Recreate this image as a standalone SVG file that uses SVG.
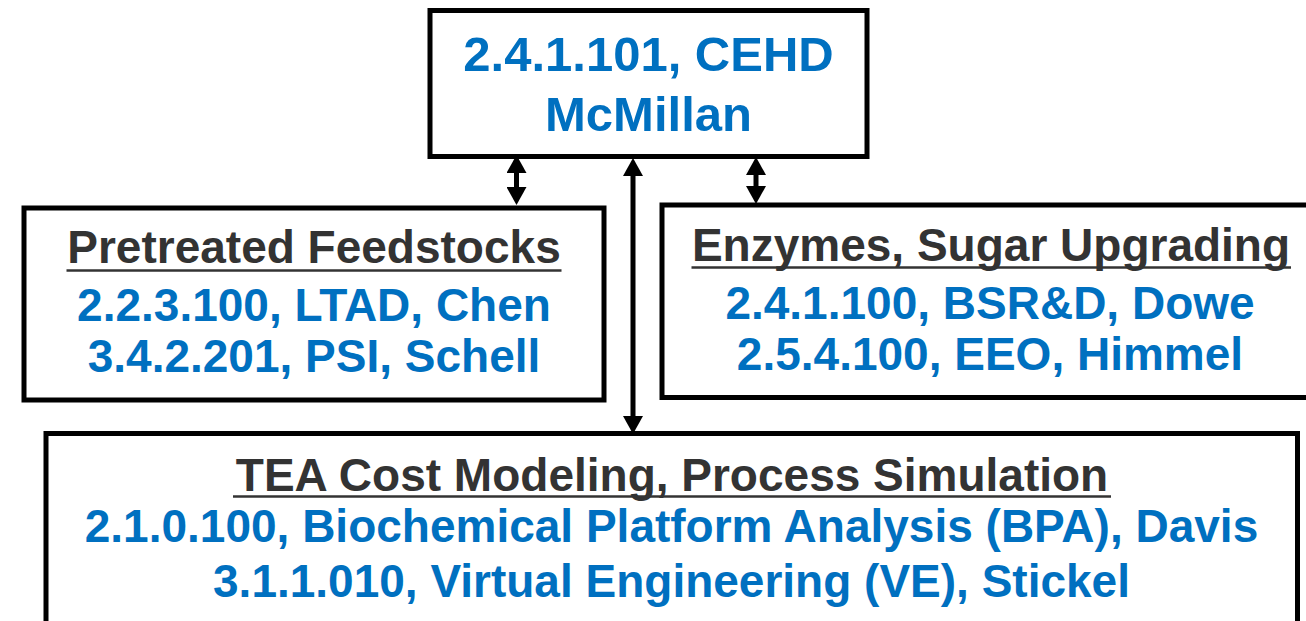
<svg xmlns="http://www.w3.org/2000/svg" width="1306" height="621" viewBox="0 0 1306 621">
  <style>
    .box { fill: #ffffff; stroke: #000000; stroke-width: 5; }
    .t { font-family: "Liberation Sans", Arial, sans-serif; font-weight: bold; text-anchor: middle; }
    .blue { fill: #0070C0; font-size: 46px; }
    .big { fill: #0070C0; font-size: 49px; }
    .head { fill: #333333; font-size: 46px; }
    .ul { stroke: #333333; stroke-width: 2.5; }
    .conn { stroke: #000000; stroke-width: 5; fill: none; }
  </style>
  <defs>
    <marker id="ah" viewBox="0 0 18 20" markerWidth="18" markerHeight="20" refX="0" refY="10" markerUnits="userSpaceOnUse" orient="auto-start-reverse">
      <path d="M0,0 L18,10 L0,20 z" fill="#000000"/>
    </marker>
  </defs>
  <rect x="0" y="0" width="1306" height="621" fill="#ffffff"/>

  <g id="connectors">
    <line class="conn" x1="516.5" y1="173" x2="516.5" y2="187" marker-start="url(#ah)" marker-end="url(#ah)"/>
    <line class="conn" x1="633" y1="176" x2="633" y2="416" marker-start="url(#ah)" marker-end="url(#ah)"/>
    <line class="conn" x1="756" y1="175" x2="756" y2="186" marker-start="url(#ah)" marker-end="url(#ah)"/>
  </g>

  <g id="node-cehd">
    <rect class="box" x="430" y="10.5" width="437" height="146"/>
    <text class="t big" x="648.5" y="71">2.4.1.101, CEHD</text>
    <text class="t big" x="648.5" y="131">McMillan</text>
  </g>

  <g id="node-feedstocks">
    <rect class="box" x="24" y="208" width="580" height="192"/>
    <text class="t head" x="314" y="263">Pretreated Feedstocks</text>
    <line class="ul" x1="66.5" y1="270.5" x2="561.5" y2="270.5"/>
    <text class="t blue" x="314" y="321">2.2.3.100, LTAD, Chen</text>
    <text class="t blue" x="314" y="372">3.4.2.201, PSI, Schell</text>
  </g>

  <g id="node-enzymes">
    <rect class="box" x="662" y="205" width="658" height="192.5"/>
    <text class="t head" x="991" y="261">Enzymes, Sugar Upgrading</text>
    <line class="ul" x1="691.5" y1="267.5" x2="1291" y2="267.5"/>
    <text class="t blue" x="990" y="318.5">2.4.1.100, BSR&amp;D, Dowe</text>
    <text class="t blue" x="990" y="370">2.5.4.100, EEO, Himmel</text>
  </g>

  <g id="node-tea">
    <rect class="box" x="46" y="433.5" width="1251.5" height="200"/>
    <text class="t head" x="672" y="491">TEA Cost Modeling, Process Simulation</text>
    <line class="ul" x1="233" y1="496.5" x2="1111" y2="496.5"/>
    <text class="t blue" x="671.5" y="542">2.1.0.100, Biochemical Platform Analysis (BPA), Davis</text>
    <text class="t blue" x="671.5" y="597">3.1.1.010, Virtual Engineering (VE), Stickel</text>
  </g>
</svg>
